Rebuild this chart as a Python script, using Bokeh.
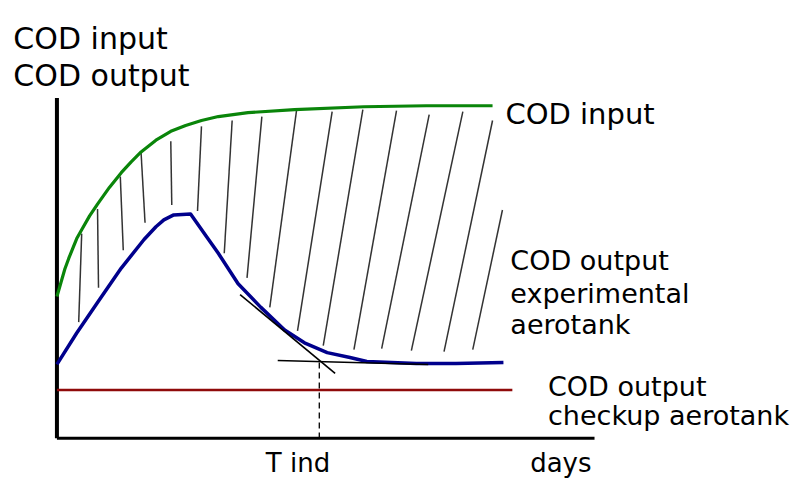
from bokeh.plotting import figure
from bokeh.models import Range1d, ColumnDataSource
from bokeh.core.properties import value
from bokeh.embed import file_html
from bokeh.resources import INLINE

# ---- data (schematic units: days on x, COD on y) ----
input_days = [0, 4, 8, 12, 16, 20, 25, 33, 41, 53, 65, 75, 85, 100, 115, 130, 146, 163, 193, 240, 310, 373, 440]
input_cod = [144, 158, 172, 183, 193, 203, 212, 226, 238, 255, 270, 281, 291, 303, 312, 318, 323, 327, 331, 334, 337, 338, 338]

exp_days = [0, 20, 41, 65, 88, 100, 108, 118, 135, 151, 163, 183, 206, 230, 250, 273, 296, 313, 363, 403, 451]
exp_cod = [75, 107, 138, 173, 202, 215, 222, 227, 228, 205, 188, 157, 133, 110, 97, 87, 82, 78, 76, 76, 77]

check_days = [0, 460]
check_cod = [49, 49]

# tangent lines used to find T ind
tan1_days = [185, 281]
tan1_cod = [146, 66]
tan2_days = [223, 375]
tan2_cod = [79, 75]
t_ind = 265
t_ind_cod = 77

# hatching between input and experimental output
hatch_x0 = [25, 41, 64, 85, 115, 146, 177, 207, 242, 278, 309, 343, 376, 410, 440, 450]
hatch_y0 = [208, 233, 266, 290, 302, 317, 323, 327, 333, 332, 334, 333, 329, 332, 323, 232]
hatch_x1 = [22, 42, 67, 89, 116, 142, 169, 192, 215, 243, 269, 300, 328, 358, 391, 420]
hatch_y1 = [118, 153, 191, 219, 237, 231, 188, 163, 133, 109, 94, 90, 91, 89, 88, 90]

x_axis_end = 543
y_axis_end = 346

p = figure(width=795, height=480, output_backend="svg", toolbar_location=None,
           x_range=Range1d(-57, 746), y_range=Range1d(-43, 445),
           x_axis_location=None, y_axis_location=None, min_border=0)
p.grid.visible = False
p.outline_line_color = None
p.background_fill_color = "white"
p.border_fill_color = "white"

# hatching
p.segment(x0=hatch_x0, y0=hatch_y0, x1=hatch_x1, y1=hatch_y1,
          line_color="#333333", line_width=1.5)

# axes
p.segment(x0=[0, 0], y0=[0, 0], x1=[0, x_axis_end], y1=[y_axis_end, 0],
          line_color="black", line_width=[4, 3])

# curves
p.line(input_days, input_cod, line_color="#0a850a", line_width=3.2, line_join="round")
p.line(exp_days, exp_cod, line_color="#00008c", line_width=3.5, line_join="round")
p.line(check_days, check_cod, line_color="#8f0a0a", line_width=2.6)

# tangents and T ind marker
p.line(tan1_days, tan1_cod, line_color="black", line_width=1.6)
p.line(tan2_days, tan2_cod, line_color="black", line_width=1.6)
p.line([t_ind, t_ind], [t_ind_cod, 0], line_color="black", line_width=1.3, line_dash="6 4")

# labels
font = value("DejaVu Sans")
big = ColumnDataSource(dict(x=[-44, -44], y=[406, 369], t=["COD input", "COD output"]))
p.text(x="x", y="y", text="t", source=big, text_font=font, text_font_size=value("30px"),
       text_baseline="alphabetic", text_color="black")

right_in = ColumnDataSource(dict(x=[453], y=[330], t=["COD input"]))
p.text(x="x", y="y", text="t", source=right_in, text_font=font, text_font_size=value("29px"),
       text_baseline="alphabetic", text_color="black")

small = ColumnDataSource(dict(
    x=[458, 458, 458, 496, 496],
    y=[181, 147, 116, 53, 23],
    t=["COD output", "experimental", "aerotank",
       "COD output", "checkup aerotank"]))
p.text(x="x", y="y", text="t", source=small, text_font=font, text_font_size=value("27px"),
       text_baseline="alphabetic", text_color="black")

bottom = ColumnDataSource(dict(x=[211, 478], y=[-25, -25], t=["T ind", "days"]))
p.text(x="x", y="y", text="t", source=bottom, text_font=font, text_font_size=value("26px"),
       text_baseline="alphabetic", text_color="black")

open("out.html", "w").write(file_html(p, INLINE))
